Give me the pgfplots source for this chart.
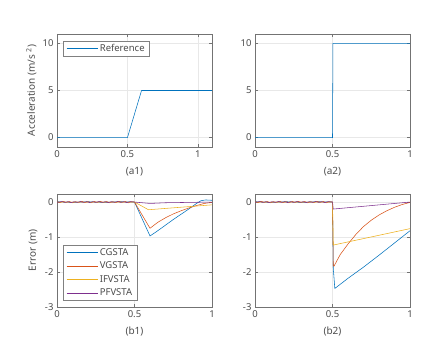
\documentclass[border=0pt]{standalone}
\usepackage{pgfplots}
\pgfplotsset{compat=1.18}
\usepackage{fontspec}
\setmainfont{Noto Sans}
\definecolor{mblue}{rgb}{0,0.447,0.741}
\definecolor{mred}{rgb}{0.85,0.325,0.098}
\definecolor{myellow}{rgb}{0.929,0.694,0.125}
\definecolor{mpurple}{rgb}{0.494,0.184,0.556}
\definecolor{mtext}{gray}{0.3}

\pgfplotsset{
  mstyle/.style={
    scale only axis, width=155pt, height=113pt, anchor=south west,
    axis line style={draw=black!55, line width=0.5pt},
    tick style={draw=black!55, line width=0.4pt},
    tick align=inside, major tick length=3pt,
    xmajorgrids, ymajorgrids, grid style={black!9, line width=0.4pt},
    tick label style={font=\fontsize{9.5}{11}\selectfont, text=mtext},
    xtick={0,0.5,1}, xticklabels={0,0.5,1},
    every axis x label/.style={at={(axis description cs:0.5,-0.215)}, anchor=center,
      font=\fontsize{10}{12}\selectfont, text=mtext},
    every axis y label/.style={at={(axis description cs:-0.165,0.5)}, anchor=center,
      rotate=90, font=\fontsize{10}{12}\selectfont, text=mtext},
    every axis plot/.append style={line width=0.55pt},
    legend image code/.code={\draw[##1] (0pt,0pt) -- (31pt,0pt);},
    legend cell align=left,
    legend style={anchor=north west, draw=black!50, line width=0.5pt, fill=white,
      font=\fontsize{9.5}{11}\selectfont, text=mtext, inner xsep=3pt, inner ysep=1pt,
      row sep=1.2pt},
  },
  toprow/.style={mstyle, ymin=-1, ymax=11, ytick={0,5,10}, yticklabels={0,5,10}},
  botrow/.style={mstyle, xmin=0, xmax=1, ymin=-3, ymax=0.23, ytick={-3,-2,-1,0},
    yticklabels={-3,-2,-1,0}},
}

\begin{document}
\begin{tikzpicture}
\path[use as bounding box] (0,0) rectangle (441pt,350pt);

% (a1) ramp reference
\begin{axis}[toprow, at={(57pt,203pt)}, xmin=0, xmax=1.1,
  xlabel={(a1)}, ylabel={Acceleration (m/s \textsuperscript{2})},
  legend style={at={(0.039,0.938)}}]
\addplot[mblue] coordinates {(0,0) (0.5,0) (0.6,5) (1.1,5)};
\addlegendentry{Reference}
\end{axis}

% (a2) step reference
\begin{axis}[toprow, at={(255pt,203pt)}, xmin=0, xmax=1, xlabel={(a2)}]
\addplot[mblue] coordinates {(0,0) (0.5,0) (0.503,10) (1,10)};
\end{axis}

% (b1) errors for ramp
\begin{axis}[botrow, at={(57pt,43pt)}, xlabel={(b1)}, ylabel={Error (m)},
  every axis y label/.append style={at={(axis description cs:-0.155,0.5)}},
  legend style={at={(0.039,0.549)}}]
\addplot[mblue] coordinates {(0,0.01) (0.1,-0.01) (0.2,0.01) (0.3,-0.01) (0.4,0.01) (0.5,0)
  (0.6,-0.97) (0.65,-0.82) (0.7,-0.66) (0.75,-0.5) (0.8,-0.35) (0.85,-0.2)
  (0.9,-0.04) (0.93,0.04) (0.96,0.06) (1.0,0.05)};
\addlegendentry{CGSTA}
\addplot[mred] coordinates {(0,0.01) (0.02,-0.015) (0.04,0.02) (0.06,-0.01) (0.08,0.015)
  (0.1,-0.02) (0.12,0.01) (0.14,-0.01) (0.16,0.02) (0.18,-0.015) (0.2,0.01)
  (0.22,-0.02) (0.24,0.015) (0.26,-0.01) (0.28,0.02) (0.3,-0.01) (0.32,0.015)
  (0.34,-0.02) (0.36,0.01) (0.38,-0.015) (0.4,0.02) (0.42,-0.01) (0.44,0.015)
  (0.46,-0.02) (0.48,0.01) (0.5,0)
  (0.6,-0.75) (0.65,-0.58) (0.7,-0.45) (0.75,-0.34) (0.8,-0.25) (0.85,-0.17)
  (0.9,-0.1) (0.95,-0.04) (1.0,-0.01)};
\addlegendentry{VGSTA}
\addplot[myellow] coordinates {(0,0) (0.5,0) (0.59,-0.22) (1.0,-0.08)};
\addlegendentry{IFVSTA}
\addplot[mpurple] coordinates {(0,-0.01) (0.03,0.015) (0.05,-0.01) (0.07,0.01) (0.09,-0.015)
  (0.11,0.01) (0.13,-0.01) (0.15,0.015) (0.17,-0.01) (0.19,0.01) (0.21,-0.015)
  (0.23,0.01) (0.25,-0.01) (0.27,0.015) (0.29,-0.01) (0.31,0.01) (0.33,-0.015)
  (0.35,0.01) (0.37,-0.01) (0.39,0.015) (0.41,-0.01) (0.43,0.01) (0.45,-0.015)
  (0.47,0.01) (0.5,0) (0.6,-0.04) (0.7,-0.02) (1.0,0)};
\addlegendentry{PFVSTA}
\node[anchor=south west, inner sep=1pt, font=\fontsize{9.5}{11}\selectfont, text=mtext]
  at (rel axis cs:0,1) {×10\textsuperscript{-6}};
\end{axis}

% (b2) errors for step
\begin{axis}[botrow, at={(255pt,43pt)}, xlabel={(b2)}]
\addplot[mblue] coordinates {(0,0.01) (0.1,-0.01) (0.2,0.01) (0.3,-0.01) (0.4,0.01) (0.5,0)
  (0.505,-1.9) (0.515,-2.47) (0.6,-2.18) (0.7,-1.86) (0.8,-1.52) (0.9,-1.17) (1.0,-0.82)};
\addplot[mred] coordinates {(0,0.01) (0.02,-0.015) (0.04,0.02) (0.06,-0.01) (0.08,0.015)
  (0.1,-0.02) (0.12,0.01) (0.14,-0.01) (0.16,0.02) (0.18,-0.015) (0.2,0.01)
  (0.22,-0.02) (0.24,0.015) (0.26,-0.01) (0.28,0.02) (0.3,-0.01) (0.32,0.015)
  (0.34,-0.02) (0.36,0.01) (0.38,-0.015) (0.4,0.02) (0.42,-0.01) (0.44,0.015)
  (0.46,-0.02) (0.48,0.01) (0.5,0)
  (0.505,-1.83) (0.51,-1.83) (0.55,-1.5) (0.6,-1.2) (0.65,-0.93) (0.7,-0.7)
  (0.75,-0.52) (0.8,-0.37) (0.85,-0.25) (0.9,-0.15) (0.95,-0.07) (1.0,-0.01)};
\addplot[myellow] coordinates {(0,0) (0.5,0) (0.505,-1.23) (1.0,-0.76)};
\addplot[mpurple] coordinates {(0,-0.01) (0.03,0.015) (0.05,-0.01) (0.07,0.01) (0.09,-0.015)
  (0.11,0.01) (0.13,-0.01) (0.15,0.015) (0.17,-0.01) (0.19,0.01) (0.21,-0.015)
  (0.23,0.01) (0.25,-0.01) (0.27,0.015) (0.29,-0.01) (0.31,0.01) (0.33,-0.015)
  (0.35,0.01) (0.37,-0.01) (0.39,0.015) (0.41,-0.01) (0.43,0.01) (0.45,-0.015)
  (0.47,0.01) (0.5,0) (0.505,-0.2) (1.0,0)};
\node[anchor=south west, inner sep=1pt, font=\fontsize{9.5}{11}\selectfont, text=mtext]
  at (rel axis cs:0,1) {×10\textsuperscript{-6}};
\end{axis}
\end{tikzpicture}
\end{document}
